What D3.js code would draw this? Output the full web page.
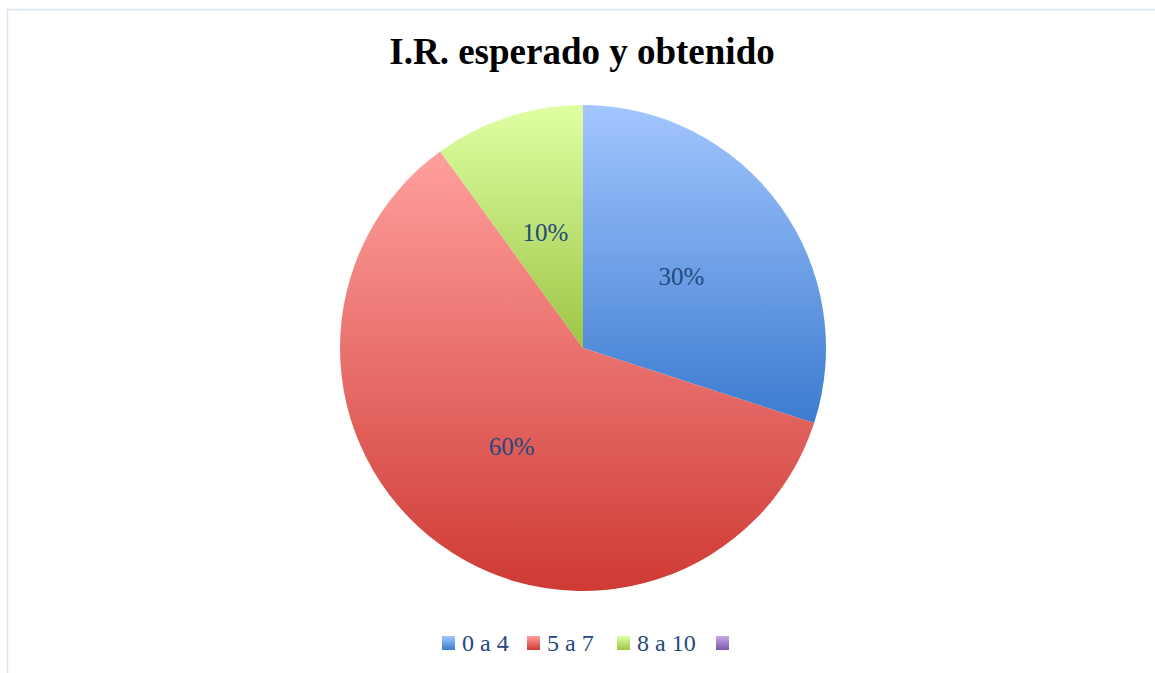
<!DOCTYPE html>
<html>
<head>
<meta charset="utf-8">
<script src="https://cdn.jsdelivr.net/npm/d3@7"></script>
<style>
  body { margin: 0; background: #fff; }
  svg { display: block; }
</style>
</head>
<body>
<div id="chart"></div>
<script>
// chart data
var categories = ["0 a 4", "5 a 7", "8 a 10", ""];
var values = [30, 60, 10, 0];
var labels = ["30%", "60%", "10%", ""];

// gradient colors per slice (top, bottom)
var topColors = ["#a3c6ff", "#ffa09d", "#e0ffa3", "#c6a9e8"];
var bottomColors = ["#3b7bcf", "#cf3a35", "#9cc545", "#7b58a8"];

var attrs = {
  width: 1155,
  height: 673,
  cx: 583,
  cy: 348,
  radius: 243,
  labelColor: "#1f497d",
  font: "'Liberation Serif', 'Times New Roman', serif"
};

var svg = d3.select("#chart").append("svg")
  .attr("width", attrs.width)
  .attr("height", attrs.height);

// chart border (only top and left visible)
svg.append("rect")
  .attr("x", 7.5).attr("y", 9.5)
  .attr("width", 1200).attr("height", 700)
  .attr("fill", "none")
  .attr("stroke", "#d9e4f3")
  .attr("stroke-width", 1.5);

// gradients
var defs = svg.append("defs");
categories.forEach(function (c, i) {
  var g = defs.append("linearGradient")
    .attr("id", "grad" + i)
    .attr("x1", 0).attr("y1", 0).attr("x2", 0).attr("y2", 1);
  g.append("stop").attr("offset", "0%").attr("stop-color", topColors[i]);
  g.append("stop").attr("offset", "100%").attr("stop-color", bottomColors[i]);
});

// title
svg.append("text")
  .attr("x", attrs.cx - 1)
  .attr("y", 64)
  .attr("text-anchor", "middle")
  .attr("font-family", attrs.font)
  .attr("font-weight", "bold")
  .attr("font-size", 37)
  .attr("fill", "#000")
  .text("I.R. esperado y obtenido");

// pie
var data = categories.map(function (c, i) {
  return { category: c, value: values[i], label: labels[i], index: i };
});

var pie = d3.pie()
  .value(function (d) { return d.value; })
  .sort(null);

var arc = d3.arc().innerRadius(0).outerRadius(attrs.radius);
var labelArc = d3.arc().innerRadius(attrs.radius * 0.5).outerRadius(attrs.radius * 0.5);

var arcs = pie(data).filter(function (d) { return d.data.value > 0; });

var pieG = svg.append("g")
  .attr("transform", "translate(" + attrs.cx + "," + attrs.cy + ")");

pieG.selectAll("path.slice")
  .data(arcs)
  .enter().append("path")
  .attr("class", "slice")
  .attr("d", arc)
  .attr("fill", function (d) { return "url(#grad" + d.data.index + ")"; });

pieG.selectAll("text.lbl")
  .data(arcs)
  .enter().append("text")
  .attr("class", "lbl")
  .attr("transform", function (d) { return "translate(" + labelArc.centroid(d) + ")"; })
  .attr("dy", "0.35em")
  .attr("text-anchor", "middle")
  .attr("font-family", attrs.font)
  .attr("font-size", 25)
  .attr("fill", attrs.labelColor)
  .text(function (d) { return d.data.label; });

// legend
var legendX = [442, 527, 617, 716];
var legend = svg.append("g").attr("class", "legend");
var items = legend.selectAll("g")
  .data(data)
  .enter().append("g")
  .attr("transform", function (d, i) { return "translate(" + legendX[i] + ",636)"; });

items.append("rect")
  .attr("width", 13).attr("height", 14)
  .attr("fill", function (d) { return "url(#grad" + d.index + ")"; });

items.append("text")
  .attr("x", 20)
  .attr("y", 15)
  .attr("font-family", attrs.font)
  .attr("font-size", 24)
  .attr("fill", attrs.labelColor)
  .text(function (d) { return d.category; });
</script>
</body>
</html>
